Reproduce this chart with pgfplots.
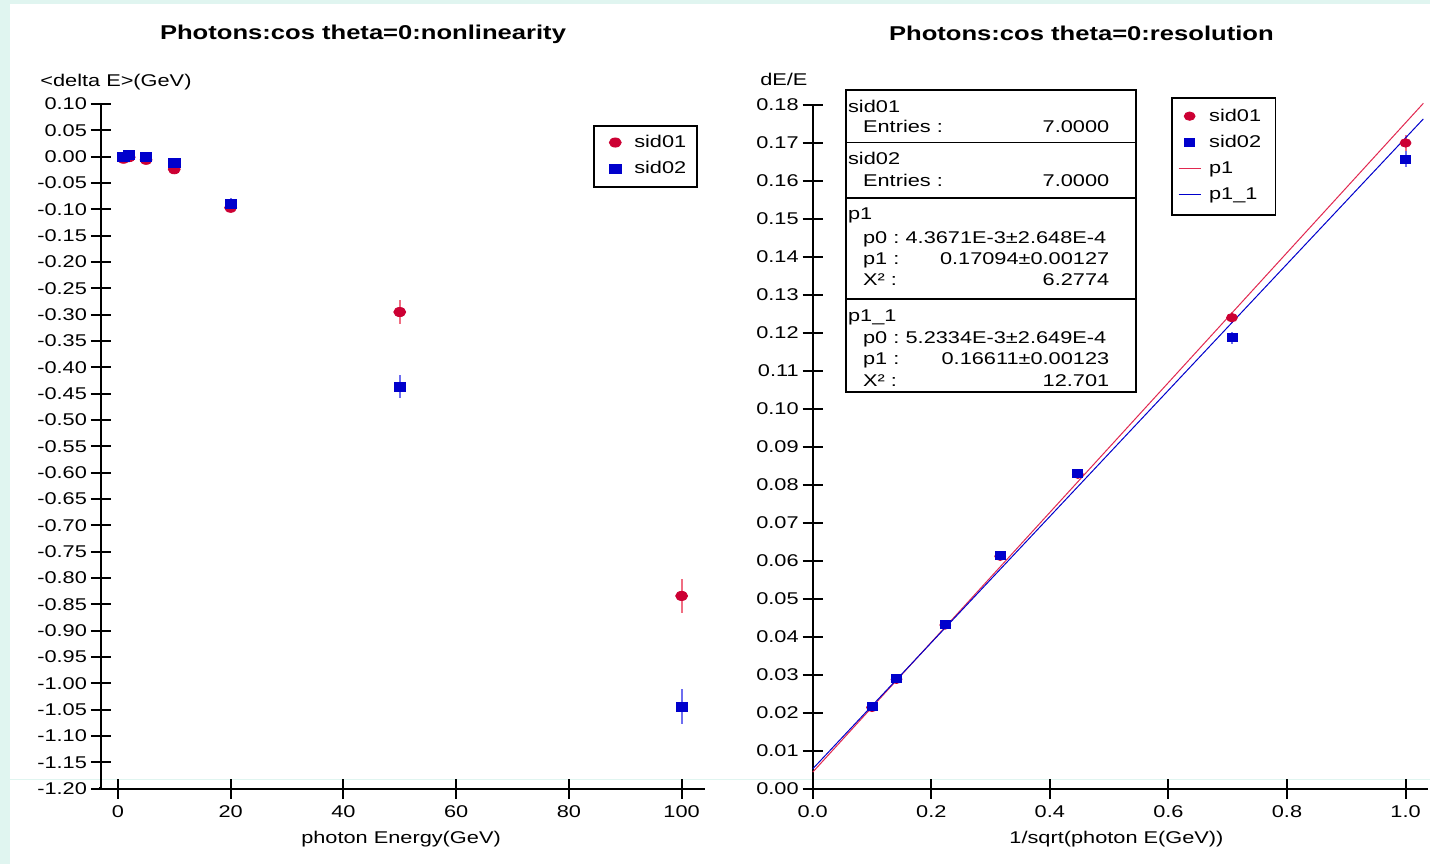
\documentclass[border=0pt]{standalone}
\usepackage{fontspec}
\setmainfont{Liberation Sans}[FakeStretch=1.28]
\usepackage{pgfplots}
\pgfplotsset{compat=1.18}
\usepackage{pgfplotstable}
\definecolor{sidred}{RGB}{204,0,51}
\definecolor{sidblue}{RGB}{0,0,204}
\definecolor{fitred}{RGB}{225,40,80}
\definecolor{errred}{RGB}{240,110,130}
\definecolor{errblue}{RGB}{110,110,240}
\definecolor{bgteal}{RGB}{224,245,240}
\newcommand{\tfont}{\fontsize{8.5}{10}\selectfont}

\pgfplotstableread{
x y e
1 -0.004 0.002
2 -0.001 0.002
5 -0.006 0.003
10 -0.024 0.005
20 -0.097 0.010
50 -0.295 0.022
100 -0.834 0.033
}\nonlinA
\pgfplotstableread{
x y e
1 0.000 0.002
2 0.004 0.002
5 -0.001 0.003
10 -0.012 0.006
20 -0.090 0.011
50 -0.437 0.022
100 -1.044 0.033
}\nonlinB
\pgfplotstableread{
x y e
0.1 0.0214 0.0003
0.1414 0.0288 0.0003
0.2236 0.0431 0.0004
0.3162 0.0612 0.0005
0.4472 0.0828 0.0006
0.7071 0.1240 0.0015
1.0 0.1700 0.0020
}\resA
\pgfplotstableread{
x y e
0.1 0.0216 0.0003
0.1414 0.0290 0.0003
0.2236 0.0432 0.0004
0.3162 0.0613 0.0005
0.4472 0.0829 0.0006
0.7071 0.1187 0.0015
1.0 0.1658 0.0020
}\resB

\pgfplotsset{
  jasstyle/.style={
    scale only axis,
    axis x line=bottom, axis y line=left,
    axis line style={-, line width=1pt, black},
    tick align=center,
    major tick length=10pt,
    every tick/.style={black, line width=1pt},
    tick label style={font=\tfont},
    yticklabel style={xshift=1.5pt},
    /pgf/number format/assume math mode=true,
    label style={font=\tfont},
    title style={font=\fontsize{10}{12}\selectfont\bfseries, yshift=-6pt},
    legend cell align=left,
    clip=false,
  },
  markleg/.style={legend image code/.code={\path[draw=none,fill=none] (0pt,0pt) -- (11pt,0pt); \draw[##1, only marks] plot coordinates {(5.5pt,0pt)};}},
  lineleg/.style={legend image code/.code={\draw[##1, draw=#1, color=#1, line width=0.5pt] (0pt,0pt) -- (11pt,0pt);}},
  legbox/.style={legend style={anchor=north west, draw=none, fill=none, font=\tfont,
     inner xsep=3pt, inner ysep=3pt, row sep=0pt,
     nodes={text height=6.5pt, text depth=1.5pt, inner ysep=2.5pt, inner xsep=4pt}}},
}

\begin{document}
\begin{tikzpicture}
\fill[white] (0,0) rectangle (715pt,432pt);
\fill[bgteal] (0,430pt) rectangle (715pt,432pt);
\fill[bgteal] (0,0) rectangle (5pt,432pt);
\draw[bgteal, line width=0.5pt] (5pt,42pt) -- (715pt,42pt);
\path[use as bounding box] (0,0) rectangle (715pt,432pt);

% legend frames and statistics box frame
\begin{scope}[x=0.5pt, y=-0.5pt, shift={(0pt,432pt)}]
\draw[fill=white, line width=0.9pt] (594,126) rectangle (697,187);
\draw[fill=white, line width=0.9pt] (1172,98) rectangle (1276,215);
\end{scope}

% ---------- left panel ----------
\begin{axis}[jasstyle, legbox,
  at={(50.5pt,37.5pt)}, anchor=south west,
  width=302pt, height=342.5pt,
  xmin=-3, xmax=104.1, ymin=-1.2, ymax=0.1,
  xtick={0,20,40,60,80,100},
  ytick={-1.2,-1.15,-1.1,-1.05,-1,-0.95,-0.9,-0.85,-0.8,-0.75,-0.7,-0.65,-0.6,-0.55,-0.5,-0.45,-0.4,-0.35,-0.3,-0.25,-0.2,-0.15,-0.1,-0.05,0,0.05,0.1},
  yticklabel style={/pgf/number format/.cd, fixed, fixed zerofill, precision=2},
  title={Photons:cos theta=0:nonlinearity},
  title style={at={(0.434,1.102)}, anchor=center},
  xlabel={photon Energy(GeV)},
  xlabel style={at={(axis description cs:0.497,-0.073)}, anchor=center},
  legend style={at={(0.823,0.972)}},
]
\addplot[only marks, markleg, mark=*, color=sidred, line width=0.4pt, mark size=2.3pt,
  mark options={xscale=1.3, fill=sidred, draw=sidred},
  error bars/.cd, y dir=both, y explicit, error mark=none,
  error bar style={errred, line width=1pt}]
  table[x=x, y=y, y error=e]{\nonlinA};
\addlegendentry{sid01}
\addplot[only marks, markleg, mark=square*, color=sidblue, line width=0.4pt, mark size=2.2pt,
  mark options={xscale=1.3, fill=sidblue, draw=sidblue},
  error bars/.cd, y dir=both, y explicit, error mark=none,
  error bar style={errblue, line width=1pt}]
  table[x=x, y=y, y error=e]{\nonlinB};
\addlegendentry{sid02}
\node[anchor=west, inner sep=0pt, font=\tfont] at (axis description cs:-0.101,1.032) {<delta E>(GeV)};
\end{axis}

% ---------- right panel ----------
\begin{axis}[jasstyle, legbox,
  at={(406.5pt,37.5pt)}, anchor=south west,
  width=307.5pt, height=342pt,
  xmin=0, xmax=1.037, ymin=0, ymax=0.18,
  xtick={0,0.2,0.4,0.6,0.8,1.0},
  xticklabel style={/pgf/number format/.cd, fixed, fixed zerofill, precision=1},
  ytick={0,0.01,0.02,0.03,0.04,0.05,0.06,0.07,0.08,0.09,0.1,0.11,0.12,0.13,0.14,0.15,0.16,0.17,0.18},
  yticklabel style={/pgf/number format/.cd, fixed, fixed zerofill, precision=2},
  title={Photons:cos theta=0:resolution},
  title style={at={(0.437,1.104)}, anchor=center},
  xlabel={1/sqrt(photon E(GeV))},
  xlabel style={at={(axis description cs:0.494,-0.073)}, anchor=center},
  legend style={at={(0.584,1.012)}},
]
\addplot[only marks, markleg, mark=*, color=sidred, line width=0.4pt, mark size=2.1pt,
  mark options={xscale=1.3, fill=sidred, draw=sidred},
  error bars/.cd, y dir=both, y explicit, error mark=none,
  error bar style={errred, line width=1pt}]
  table[x=x, y=y, y error=e]{\resA};
\addlegendentry{sid01}
\addplot[only marks, markleg, mark=square*, color=sidblue, line width=0.4pt, mark size=2pt,
  mark options={xscale=1.25, fill=sidblue, draw=sidblue},
  error bars/.cd, y dir=both, y explicit, error mark=none,
  error bar style={errblue, line width=1pt}]
  table[x=x, y=y, y error=e]{\resB};
\addlegendentry{sid02}
\addplot[lineleg=fitred, color=fitred, draw=fitred, line width=0.5pt] coordinates {(0,0.0043671) (1.03,0.1804353)};
\addlegendentry{p1}
\addplot[lineleg=sidblue, color=sidblue, draw=sidblue, line width=0.5pt] coordinates {(0,0.0052334) (1.03,0.1763267)};
\addlegendentry{p1\_1}
\node[anchor=west, inner sep=0pt, font=\tfont] at (axis description cs:-0.086,1.038) {dE/E};
\end{axis}

% ---------- statistics box ----------
\begin{scope}[x=0.5pt, y=-0.5pt, shift={(0pt,432pt)}, every node/.style={font=\tfont, inner sep=0pt}]
\fill[black] (99.5,787.5) rectangle (102.5,790.5);
\draw[fill=white, line width=0.9pt] (846,90) rectangle (1136,392);
\draw[line width=0.9pt] (846,142.5) -- (1136,142.5);
\draw[line width=0.9pt] (846,198) -- (1136,198);
\draw[line width=0.9pt] (846,299) -- (1136,299);
\node[anchor=base west] at (848,112.5) {sid01};
\node[anchor=base west] at (863,132.3) {Entries :};
\node[anchor=base east] at (1110,132.3) {7.0000};
\node[anchor=base west] at (848,165) {sid02};
\node[anchor=base west] at (863,186.7) {Entries :};
\node[anchor=base east] at (1110,186.7) {7.0000};
\node[anchor=base west] at (848,220) {p1};
\node[anchor=base west] at (863,243.3) {p0 :};
\node[anchor=base east] at (1107,243.3) {4.3671E-3±2.648E-4};
\node[anchor=base west] at (863,265) {p1 :};
\node[anchor=base east] at (1110,265) {0.17094±0.00127};
\node[anchor=base west] at (863,286) {X² :};
\node[anchor=base east] at (1110,286) {6.2774};
\node[anchor=base west] at (848,321.7) {p1\_1};
\node[anchor=base west] at (863,343.3) {p0 :};
\node[anchor=base east] at (1107,343.3) {5.2334E-3±2.649E-4};
\node[anchor=base west] at (863,365) {p1 :};
\node[anchor=base east] at (1110,365) {0.16611±0.00123};
\node[anchor=base west] at (863,386.7) {X² :};
\node[anchor=base east] at (1110,386.7) {12.701};
\end{scope}
\end{tikzpicture}
\end{document}
